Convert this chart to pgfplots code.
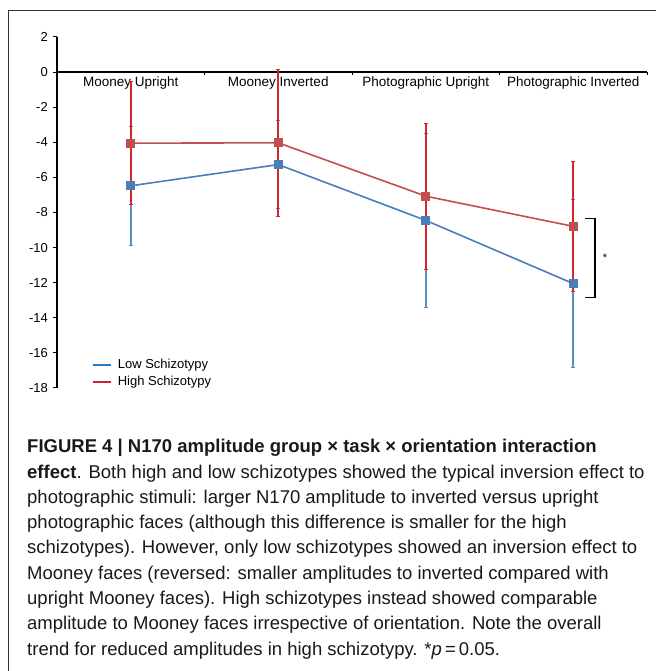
\documentclass[border=0pt]{standalone}
\usepackage{pgfplots}
\pgfplotsset{compat=1.18}
\usepackage{fontspec}
\setmainfont{Liberation Sans}
\definecolor{lowblue}{HTML}{4A7EBB}
\definecolor{lowbar}{HTML}{5B8BC9}
\definecolor{highline}{HTML}{C0504D}
\definecolor{highbar}{HTML}{D0262C}
\definecolor{legblue}{HTML}{2A78C2}
\definecolor{legred}{HTML}{C8282D}
\pgfplotstableread{
x y e
0.5 -6.48 3.38
1.5 -5.27 2.52
2.5 -8.45 4.95
3.5 -12.05 4.78
}\lowdata
\pgfplotstableread{
x y e
0.5 -4.05 3.50
1.5 -4.03 4.18
2.5 -7.07 4.16
3.5 -8.79 3.72
}\highdata
\begin{document}
\begin{tikzpicture}
\path[use as bounding box] (0,0) rectangle (656bp,671bp);
\draw[line width=0.8bp, black!80] (8bp,-2bp) -- (8bp,661bp) -- (658bp,661bp);
\begin{axis}[
  at={(57bp,283bp)}, anchor=south west,
  scale only axis, width=590bp, height=351bp,
  xmin=0, xmax=4, ymin=-18, ymax=2,
  axis x line=none, axis y line=left,
  y axis line style={-, line width=1.3bp},
  ytick={-18,-16,...,2},
  tick align=outside, major tick length=4bp,
  tick style={line width=1bp, black},
  yticklabel style={font=\fontsize{13bp}{15bp}\selectfont, inner sep=0pt, xshift=-5bp},
  /pgf/number format/assume math mode=true,
  clip=false,
  legend image code/.code={\draw[#1] (0bp,0bp) -- (18bp,0bp); \path (23bp,0bp);},
  legend style={draw=none, fill=none, inner sep=0pt, at={(axis cs:0.235,-16.3)}, anchor=north west,
    font=\fontsize{13bp}{15bp}\selectfont, row sep=4bp, nodes={inner sep=1bp}},
  legend cell align=left,
]
\addlegendimage{legblue, line width=2bp}
\addlegendentry{Low Schizotypy}
\addlegendimage{legred, line width=2bp}
\addlegendentry{High Schizotypy}
% category labels and x axis line
\draw[line width=1.5bp, black] (axis cs:0,0) -- (axis cs:4,0);
\draw[line width=1bp] (axis cs:1,0) -- ([yshift=-2.5bp]axis cs:1,0);
\draw[line width=1bp] (axis cs:2,0) -- ([yshift=-2.5bp]axis cs:2,0);
\draw[line width=1bp] (axis cs:3,0) -- ([yshift=-2.5bp]axis cs:3,0);
\draw[line width=1bp] (axis cs:4,0) -- ([yshift=-2.5bp]axis cs:4,0);
\node[anchor=north, yshift=-4bp, inner sep=0pt, font=\fontsize{13.5bp}{15bp}\selectfont] at (axis cs:0.5,0) {Mooney Upright};
\node[anchor=north, yshift=-4bp, inner sep=0pt, font=\fontsize{13.5bp}{15bp}\selectfont] at (axis cs:1.5,0) {Mooney Inverted};
\node[anchor=north, yshift=-4bp, inner sep=0pt, font=\fontsize{13.5bp}{15bp}\selectfont] at (axis cs:2.5,0) {Photographic Upright};
\node[anchor=north, yshift=-4bp, inner sep=0pt, font=\fontsize{13.5bp}{15bp}\selectfont] at (axis cs:3.5,0) {Photographic Inverted};
% data
\addplot[forget plot, lowblue, line width=1.6bp, mark=square*, mark size=3.7bp, mark options={solid, fill=lowblue},
  error bars/.cd, y dir=both, y explicit,
  error bar style={line width=1.8bp, lowbar},
  error mark options={rotate=90, mark size=2bp, line width=1bp, lowbar}]
  table[x=x, y=y, y error=e] {\lowdata};
\addplot[forget plot, highline, line width=1.6bp, mark=square*, mark size=3.7bp, mark options={solid, fill=highline},
  error bars/.cd, y dir=both, y explicit,
  error bar style={line width=1.9bp, highbar},
  error mark options={rotate=90, mark size=2bp, line width=1bp, highbar}]
  table[x=x, y=y, y error=e] {\highdata};
% significance bracket
\draw[line width=1.3bp, black] (axis cs:3.58,-8.33) -- (axis cs:3.647,-8.33) -- (axis cs:3.647,-12.84) -- (axis cs:3.58,-12.84);
\node[inner sep=0pt, font=\fontsize{11bp}{12bp}\selectfont] at (axis cs:3.715,-10.55) {*};
\end{axis}
\begin{scope}[every node/.style={anchor=base west, inner sep=0pt, text=black!90, font=\fontsize{18.5bp}{25bp}\selectfont}]
\node at (27bp,218bp) {\textbf{FIGURE 4 | N170 amplitude group × task × orientation interaction}};
\node at (27bp,192.75bp) {\textbf{effect}. Both high and low schizotypes showed the typical inversion effect to};
\node at (27bp,167.5bp) {photographic stimuli: larger N170 amplitude to inverted versus upright};
\node at (27bp,142.25bp) {photographic faces (although this difference is smaller for the high};
\node at (27bp,117bp) {schizotypes). However, only low schizotypes showed an inversion effect to};
\node at (27bp,91.75bp) {Mooney faces (reversed: smaller amplitudes to inverted compared with};
\node at (27bp,66.5bp) {upright Mooney faces). High schizotypes instead showed comparable};
\node at (27bp,41.25bp) {amplitude to Mooney faces irrespective of orientation. Note the overall};
\node at (27bp,16bp) {trend for reduced amplitudes in high schizotypy. *\textit{p}\,=\,0.05.};
\end{scope}
\end{tikzpicture}
\end{document}
